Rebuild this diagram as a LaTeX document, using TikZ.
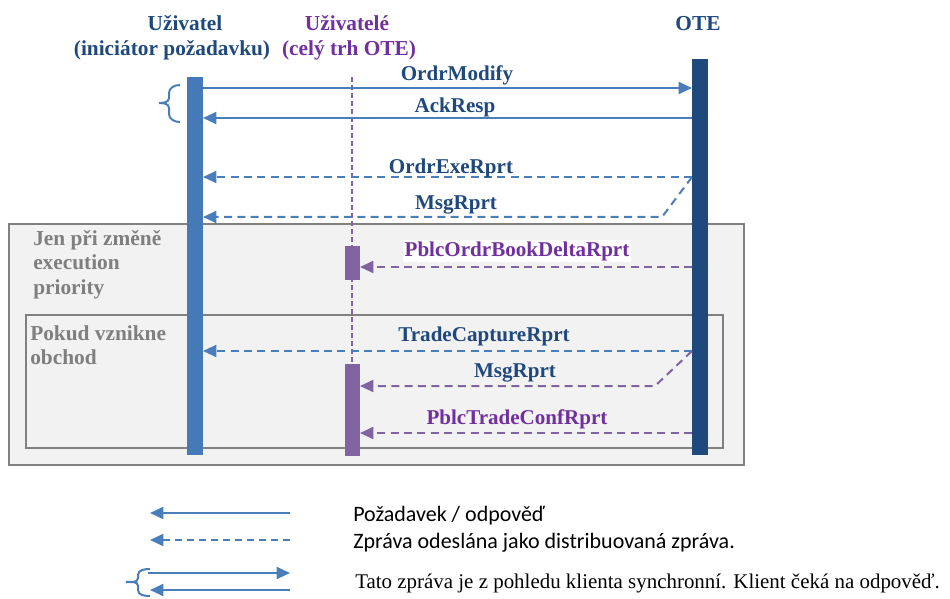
\documentclass[tikz,border=0pt]{standalone}
\usepackage{fontspec}
\setmainfont{Liberation Serif}
\newfontfamily\legfont{Carlito}
\usetikzlibrary{arrows.meta}
\definecolor{ublue}{HTML}{4A7EBB}
\definecolor{barblue}{HTML}{4579B8}
\definecolor{otebar}{HTML}{1F497D}
\definecolor{dkblue}{HTML}{1F497D}
\definecolor{purp}{HTML}{7030A0}
\definecolor{purpbar}{HTML}{8064A2}
\definecolor{boxgray}{HTML}{F2F2F2}
\definecolor{edgegray}{HTML}{808080}
\definecolor{txtgray}{HTML}{7F7F7F}
\begin{document}
\begin{tikzpicture}[x=0.75pt,y=-0.75pt,
  lbl/.style={font=\bfseries\fontsize{15.8}{18}\selectfont, inner sep=1pt},
  head/.style={font=\bfseries\fontsize{16}{19}\selectfont, inner sep=0pt},
  grp/.style={font=\bfseries\fontsize{16}{18.4}\selectfont, text=txtgray, align=left, anchor=north west, inner sep=0pt},
  leg/.style={anchor=west, inner sep=0pt},
  msgline/.style={line width=1.5pt, -{Triangle[length=10pt,width=9pt]}},
  dist/.style={msgline, dash pattern=on 6pt off 4pt},
  groupbox/.style={draw=edgegray, line width=1.5pt, fill=boxgray},
  bar/.style={draw=none, inner sep=0pt, anchor=north west},
  brace/.style={ublue, line width=1.5pt}]
\useasboundingbox (0,0) rectangle (950,599);

% group boxes
\node[groupbox, anchor=north west, minimum width=735*0.75pt, minimum height=241*0.75pt, inner sep=0pt] (outer) at (8,223) {};
\node[groupbox, anchor=north west, minimum width=697*0.75pt, minimum height=133*0.75pt, inner sep=0pt] (inner) at (25,314) {};
\node[grp] (g1) at (33,230) {Jen při změně\\execution\\priority};
\node[grp] (g2) at (30,325) {Pokud vznikne\\obchod};

% headers
\node[head, text=dkblue, anchor=base] (huser1) at (185,31) {Uživatel};
\node[head, text=dkblue, anchor=base] (huser2) at (172,56) {(iniciátor požadavku)};
\node[head, text=purp, anchor=base] (hall1) at (347,31) {Uživatelé};
\node[head, text=purp, anchor=base] (hall2) at (349,56) {(celý trh OTE)};
\node[head, text=dkblue, anchor=base] (hote) at (698,31) {OTE};

% lifelines
\coordinate (lltop) at (352,77);
\coordinate (llbot) at (352,455);
\draw[purpbar, line width=1.2pt, dash pattern=on 4pt off 2pt] (lltop) -- (llbot);
\node[bar, fill=barblue, minimum width=16*0.75pt, minimum height=378*0.75pt] (ubar) at (187,77) {};
\node[bar, fill=otebar, minimum width=16*0.75pt, minimum height=396*0.75pt] (obar) at (692,59) {};
\node[bar, fill=purpbar, minimum width=15*0.75pt, minimum height=34*0.75pt] (pbar1) at (345,246) {};
\node[bar, fill=purpbar, minimum width=15*0.75pt, minimum height=92*0.75pt] (pbar2) at (345,364) {};

% message anchors
\coordinate (m1o) at (692,88);   \coordinate (m1u) at (203,88);
\coordinate (m2o) at (692,118);  \coordinate (m2u) at (203,118);
\coordinate (m3o) at (692,177);  \coordinate (m3u) at (203,177);
\coordinate (m4k) at (662,217);  \coordinate (m4u) at (203,217);
\coordinate (m5o) at (692,267);  \coordinate (m5p) at (360,267);
\coordinate (m6o) at (692,351);  \coordinate (m6u) at (203,351);
\coordinate (m7k) at (655,386);  \coordinate (m7p) at (360,386);
\coordinate (m8o) at (692,433);  \coordinate (m8p) at (360,433);

\draw[msgline, ublue] (m1u) -- (m1o);
\draw[msgline, ublue] (m2o) -- (m2u);
\draw[dist, ublue] (m3o) -- (m3u);
\draw[dist, ublue] (m3o) -- (m4k) -- (m4u);
\draw[dist, purpbar] (m5o) -- (m5p);
\draw[dist, ublue] (m6o) -- (m6u);
\draw[dist, purpbar] (m6o) -- (m7k) -- (m7p);
\draw[dist, purpbar] (m8o) -- (m8p);

% message labels
\node[lbl, text=dkblue] (l1) at (457,75) {OrdrModify};
\node[lbl, text=dkblue] (l2) at (455,107) {AckResp};
\node[lbl, text=dkblue] (l3) at (451,168) {OrdrExeRprt};
\node[lbl, text=dkblue] (l4) at (456,205) {MsgRprt};
\node[lbl, text=purp, fill=white] (l5) at (517,251) {PblcOrdrBookDeltaRprt};
\node[lbl, text=dkblue] (l6) at (484,336) {TradeCaptureRprt};
\node[lbl, text=dkblue] (l7) at (515,373) {MsgRprt};
\node[lbl, text=purp] (l8) at (517,419) {PblcTradeConfRprt};

% synchronous brace
\draw[brace] (180,85) to[out=180,in=90] (169,93) -- (169,98) to[out=-90,in=0] (159,103)
  to[out=0,in=90] (169,108) -- (169,114) to[out=-90,in=180] (180,122);

% legend
\coordinate (a1s) at (290,513); \coordinate (a1e) at (150,513);
\coordinate (a2s) at (290,540); \coordinate (a2e) at (150,540);
\coordinate (a3s) at (148,573); \coordinate (a3e) at (290,573);
\coordinate (a4s) at (290,590); \coordinate (a4e) at (150,590);
\draw[msgline, ublue] (a1s) -- (a1e);
\draw[dist, ublue, dash pattern=on 5pt off 4pt] (a2s) -- (a2e);
\draw[msgline, ublue] (a3s) -- (a3e);
\draw[msgline, ublue] (a4s) -- (a4e);
\draw[brace] (150,569) to[out=180,in=90] (138,575) -- (138,578) to[out=-90,in=0] (126,582)
  to[out=0,in=90] (138,586) -- (138,590) to[out=-90,in=180] (150,596);
\node[leg, font=\legfont\fontsize{16.5}{18}\selectfont] (t1) at (353,516) {Požadavek / odpověď};
\node[leg, font=\legfont\fontsize{16.5}{18}\selectfont] (t2) at (353,543) {Zpráva odeslána jako distribuovaná zpráva.};
\node[leg, font=\fontsize{15.7}{18}\selectfont] (t3) at (355,583) {Tato zpráva je z pohledu klienta synchronní. Klient čeká na odpověď.};
\end{tikzpicture}
\end{document}
